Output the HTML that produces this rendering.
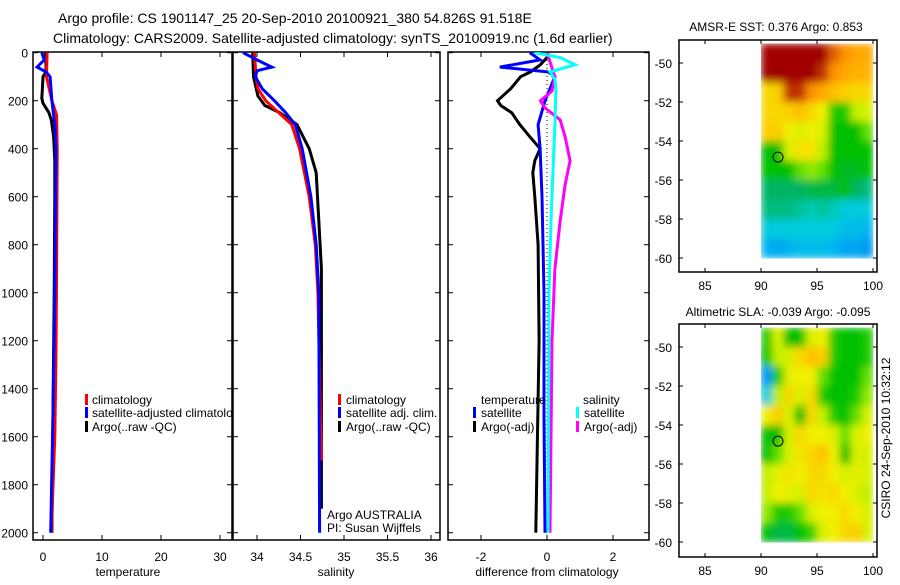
<!DOCTYPE html>
<html><head><meta charset="utf-8"><style>
body{margin:0;background:#fff;width:900px;height:580px;overflow:hidden}
svg{font-family:"Liberation Sans",sans-serif;font-size:12px}
</style></head><body>
<svg id="fig" width="900" height="580" viewBox="0 0 900 580" xmlns="http://www.w3.org/2000/svg">
<defs><filter id="blur" x="0" y="0" width="1" height="1"><feGaussianBlur stdDeviation="4" edgeMode="duplicate"/></filter></defs>
<text x="58" y="23" font-size="14">Argo profile: CS 1901147_25 20-Sep-2010 20100921_380 54.826S 91.518E</text>
<text x="53" y="43" font-size="14">Climatology: CARS2009. Satellite-adjusted climatology: synTS_20100919.nc (1.6d earlier)</text>
<text x="776" y="31" text-anchor="middle">AMSR-E SST: 0.376 Argo: 0.853</text>
<text x="778" y="316" text-anchor="middle">Altimetric SLA: -0.039 Argo: -0.095</text>
<text transform="translate(890,438) rotate(-90)" text-anchor="middle">CSIRO 24-Sep-2010 10:32:12</text>
<g id="layer"></g>
</svg>
<script>
// ---------- data ----------
const depthTicks=[0,200,400,600,800,1000,1200,1400,1600,1800,2000];
const tTicks=[0,10,20,30];
const sTicks=[34,34.5,35,35.5,36];
const sTickLabels=["34","34.5","35","35.5","36"];
const dTicks=[-2,0,2];
const latTicks=[-50,-52,-54,-56,-58,-60];
const lonTicks=[85,90,95,100];

const tArgoDepth=[0,20,50,80,100,150,190,210,250,280,350,450,600,1000,1500,2000];
const tArgo=[0.4,0.4,0.5,0.5,0.0,-0.1,-0.2,0.0,1.0,1.4,1.8,2.0,2.0,1.9,1.7,1.5];
const tClimDepth=[0,100,200,260,400,900,1250,1600,2000];
const tClim=[0.7,0.6,1.5,2.3,2.4,2.3,2.2,2.0,1.4];
const tSatDepth=[0,30,60,80,100,200,300,400,1000,1500,2000];
const tSat=[-0.2,0.2,-1.0,0.5,1.2,1.5,2.0,2.2,2.0,1.7,1.3];

const sSatDepth=[0,30,60,75,100,150,200,250,300,400,600,800,1000,2000];
const sSat=[33.84,34.0,34.17,34.0,33.98,34.06,34.2,34.33,34.44,34.52,34.62,34.68,34.71,34.72];
const sClimDepth=[0,100,150,200,300,400,600,800,1000,1700];
const sClim=[33.97,33.99,34.01,34.1,34.4,34.49,34.6,34.67,34.7,34.74];
const sArgoDepth=[0,100,180,220,250,300,400,500,700,900,1900];
const sArgo=[33.95,33.96,34.01,34.09,34.26,34.46,34.6,34.68,34.71,34.74,34.74];

const dTArgoDepth=[0,20,50,80,100,150,200,220,250,300,350,400,450,500,600,800,1200,2000];
const dTArgo=[0.03,0,-0.2,-0.5,-0.8,-1.1,-1.5,-1.4,-1.07,-0.82,-0.52,-0.21,-0.37,-0.43,-0.37,-0.27,-0.24,-0.34];
const dTSatDepth=[0,30,60,80,100,150,200,300,400,600,1000,1500,2000];
const dTSat=[-0.52,-0.21,-1.43,0.03,0.24,0.09,-0.06,-0.27,-0.21,-0.15,-0.09,-0.09,-0.06];
const dSSatDepth=[0,20,50,80,110,150,300,500,700,1000,2000];
const dSSat=[-0.37,0.4,0.85,0.09,0.24,0.27,0.24,0.18,0.12,0.06,0.03];
const dSArgoDepth=[0,100,160,200,230,280,350,450,550,700,900,1200,2000];
const dSArgo=[0,0.24,0.15,-0.2,-0.06,0.4,0.55,0.7,0.55,0.4,0.24,0.15,0.09];

const sstGrid=[
[1,1,1,1,1,1,.9,.85,.8,.8],
[1,1,1,1,1,.95,.85,.8,.78,.78],
[.7,.72,.95,.95,.85,.8,.75,.72,.7,.7],
[.7,.7,.72,.75,.7,.65,.4,.4,.55,.6],
[.72,.72,.65,.6,.65,.6,.38,.38,.38,.45],
[.38,.38,.6,.68,.68,.55,.38,.38,.38,.38],
[.38,.38,.38,.45,.5,.45,.38,.37,.37,.38],
[.35,.35,.35,.35,.36,.36,.36,.38,.35,.34],
[.34,.34,.34,.33,.32,.33,.32,.3,.3,.3],
[.3,.3,.3,.3,.3,.3,.3,.28,.28,.27],
[.27,.26,.27,.28,.28,.28,.27,.26,.26,.25]];
const slaGrid=[
[.4,.6,.38,.38,.6,.65,.4,.38,.38,.4],
[.38,.55,.6,.7,.75,.72,.4,.38,.38,.4],
[.25,.4,.62,.65,.65,.45,.38,.38,.38,.45],
[.3,.55,.7,.6,.7,.4,.38,.38,.4,.5],
[.65,.72,.6,.38,.7,.55,.4,.38,.45,.6],
[.38,.38,.6,.7,.65,.65,.6,.45,.6,.65],
[.38,.45,.6,.68,.7,.75,.65,.38,.6,.6],
[.55,.62,.68,.65,.7,.7,.65,.6,.62,.6],
[.55,.65,.62,.6,.7,.68,.7,.65,.6,.55],
[.5,.4,.4,.45,.6,.65,.65,.7,.65,.6],
[.38,.36,.36,.38,.42,.6,.65,.7,.72,.6]];
const gridLon0=90, gridLat0=-49;
const argoLon=91.518, argoLat=-54.826;

// ---------- helpers ----------
const NS="http://www.w3.org/2000/svg";
const layer=document.getElementById('layer');
function mk(tag,attrs,parent){const e=document.createElementNS(NS,tag);for(const k in attrs)e.setAttribute(k,attrs[k]);(parent||layer).appendChild(e);return e;}
function lin(d0,d1,r0,r1){return v=>r0+(v-d0)*(r1-r0)/(d1-d0);}
const yDepth=lin(0,2000,52.7,532.7);
const pBottom=540, pTop=52;

function panel(name,x0,x1,xs,ticks,labels,xlabel,xlx){
  const g=mk('g',{});
  
  
  const r=mk('rect',{x:x0,y:pTop,width:x1-x0,height:pBottom-pTop,fill:'none',stroke:'#000','stroke-width':1.5},g);
  
  
  ticks.forEach((t,i)=>{const x=xs(t);
    mk('line',{x1:x,x2:x,y1:pBottom,y2:pBottom-5,stroke:'#000'},g);
    mk('line',{x1:x,x2:x,y1:pTop,y2:pTop+5,stroke:'#000'},g);
    const tx=mk('text',{x:x,y:561,'text-anchor':'middle'},g);tx.textContent=labels[i];
    
    
  });
  depthTicks.forEach(d=>{const y=yDepth(d);
    mk('line',{x1:x0,x2:x0+5,y1:y,y2:y,stroke:'#000'},g);
    mk('line',{x1:x1,x2:x1-5,y1:y,y2:y,stroke:'#000'},g);});
  const xl=mk('text',{x:xlx,y:576,'text-anchor':'middle'},g);xl.textContent=xlabel;
  
  
  return g;
}
function line(name,xs,vals,depths,color,w,clipId){
  const pts=vals.map((v,i)=>xs(v).toFixed(1)+','+yDepth(depths[i]).toFixed(1)).join(' ');
  const p=mk('polyline',{points:pts,fill:'none',stroke:color,'stroke-width':w||3,'clip-path':'url(#'+clipId+')'});
  
  
}
function clip(id,x0,x1){const d=mk('clipPath',{id:id});mk('rect',{x:x0,y:pTop,width:x1-x0,height:pBottom-pTop},d);}
function label(txt,x,y,name){const t=mk('text',{x:x,y:y});t.textContent=txt;
  
  return t;}
function swatch(x,y,c){mk('rect',{x:x,y:y-9,width:3,height:11,fill:c});}

// y tick labels
depthTicks.forEach(d=>{const t=mk('text',{x:28,y:yDepth(d)+5,'text-anchor':'end'});t.textContent=d;
  
  });

// panel 1 temperature
const xT=lin(0,10,43,102);
clip('c1',33,232);
panel('temperature-panel',33,232,xT,tTicks,tTicks.map(String),'temperature',128);
line('temp-argo-line',xT,tArgo,tArgoDepth,'#000',3,'c1');
line('temp-climatology-line',xT,tClim,tClimDepth,'#f00',3,'c1');
line('temp-satellite-line',xT,tSat,tSatDepth,'#00f',3,'c1');
swatch(85,403,'#f00');swatch(85,416,'#00f');swatch(85,430,'#000');
label('climatology',92,404,'legend-climatology');
const lg=mk('svg',{x:0,y:0,width:232,height:580,overflow:'hidden'});
const t2=mk('text',{x:92,y:417},lg);t2.textContent='satellite-adjusted climatology';


label('Argo(..raw -QC)',92,431,'legend-argo');

// panel 2 salinity
const xS=lin(34,35,257,344);
clip('c2',233,440);
panel('salinity-panel',233,440,xS,sTicks,sTickLabels,'salinity',336);
line('sal-argo-line',xS,sArgo,sArgoDepth,'#000',3,'c2');
line('sal-climatology-line',xS,sClim,sClimDepth,'#f00',3,'c2');
line('sal-satellite-line',xS,sSat,sSatDepth,'#00f',3,'c2');
swatch(338,403,'#f00');swatch(338,416,'#00f');swatch(338,430,'#000');
label('climatology',346,404,'legend-sal-climatology');
label('satellite adj. clim.',346,417,'legend-sal-satellite');
label('Argo(..raw -QC)',346,431,'legend-sal-argo');
label('Argo AUSTRALIA',327,519,'argo-australia-label');
label('PI: Susan Wijffels',327,532,'pi-label');

// panel 3 difference
const xD=lin(0,2,547,613);
clip('c3',448,649);
panel('difference-panel',448,649,xD,dTicks,dTicks.map(String),'difference from climatology',547);
mk('line',{x1:xD(0),x2:xD(0),y1:pTop,y2:yDepth(2000),stroke:'#000','stroke-dasharray':'1,3'});
line('diff-temp-argo-line',xD,dTArgo,dTArgoDepth,'#000',3,'c3');
line('diff-temp-satellite-line',xD,dTSat,dTSatDepth,'#00f',3,'c3');
line('diff-sal-argo-line',xD,dSArgo,dSArgoDepth,'#f0f',3,'c3');
line('diff-sal-satellite-line',xD,dSSat,dSSatDepth,'#0ff',3,'c3');
label('temperature',481,404,'legend-temperature-header');
label('salinity',583,404,'legend-salinity-header');
swatch(473,416,'#00f');swatch(473,430,'#000');
swatch(576,416,'#0ff');swatch(576,430,'#f0f');
label('satellite',481,417,'legend-diff-temp-satellite');
label('Argo(-adj)',481,431,'legend-diff-temp-argo');
label('satellite',584,417,'legend-diff-sal-satellite');
label('Argo(-adj)',584,431,'legend-diff-sal-argo');

// maps
const stops=[[.2,[0,80,255]],[.27,[0,180,240]],[.31,[0,210,210]],[.35,[0,180,100]],[.38,[0,192,0]],[.45,[96,224,0]],[.55,[192,240,0]],[.65,[240,240,0]],[.75,[255,192,0]],[.85,[255,144,0]],[.95,[192,48,0]],[1,[160,0,0]]];
function cmap(v){if(v<=stops[0][0])return 'rgb('+stops[0][1]+')';
  for(let i=1;i<stops.length;i++){if(v<=stops[i][0]){const a=stops[i-1],b=stops[i],f=(v-a[0])/(b[0]-a[0]);
    return 'rgb('+a[1].map((c,k)=>Math.round(c+(b[1][k]-c)*f)).join(',')+')';}}
  return 'rgb('+stops[stops.length-1][1]+')';}
function map(name,grid,top,bottom,lat50y,lat60y){
  const xl=lin(90,100,761,873), yl=lin(-50,-60,lat50y,lat60y);
  const g=mk('g',{});
  
  
  const cells=mk('g',{filter:'url(#blur)'},g);
  
  
  grid.forEach((row,r)=>row.forEach((v,c)=>{
    const x=xl(gridLon0+c), y=yl(gridLat0-r);
    const cell=mk('rect',{x:x,y:y,width:xl(gridLon0+c+1)-x+0.5,height:yl(gridLat0-r-1)-y+0.5,fill:cmap(v)},cells);
    
    
  }));
  const fr=mk('rect',{x:679,y:top,width:198,height:bottom-top,fill:'none',stroke:'#000','stroke-width':1.5},g);
  
  
  latTicks.forEach(l=>{const y=yl(l);
    mk('line',{x1:679,x2:683,y1:y,y2:y,stroke:'#000'},g);mk('line',{x1:877,x2:873,y1:y,y2:y,stroke:'#000'},g);
    const t=mk('text',{x:672,y:y+5,'text-anchor':'end'},g);t.textContent=l;
    
    });
  lonTicks.forEach(l=>{const x=xl(l);
    mk('line',{x1:x,x2:x,y1:bottom,y2:bottom-4,stroke:'#000'},g);mk('line',{x1:x,x2:x,y1:top,y2:top+4,stroke:'#000'},g);
    const t=mk('text',{x:x,y:bottom+18,'text-anchor':'middle'},g);t.textContent=l;
    
    });
  const c=mk('circle',{cx:xl(argoLon),cy:yl(argoLat),r:5,fill:'none',stroke:'#000','stroke-width':1},g);
  
  
}
map('sst-map',sstGrid,40,272,63,258);
map('sla-map',slaGrid,324,557,347,542);
</script>
</body></html>
